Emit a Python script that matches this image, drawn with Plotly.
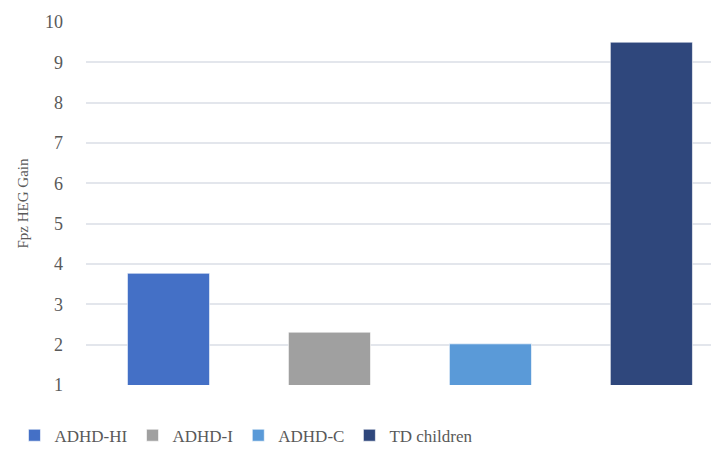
import plotly.graph_objects as go

groups = ["ADHD-HI", "ADHD-I", "ADHD-C", "TD children"]
values = [3.77, 2.31, 2.02, 9.5]
colors = ["#4470c6", "#a0a0a0", "#5a9ad8", "#2f477c"]
y_ticks = [1, 2, 3, 4, 5, 6, 7, 8, 9, 10]

SERIF = "Liberation Serif"

fig = go.Figure()
for i, (g, v, c) in enumerate(zip(groups, values, colors)):
    fig.add_trace(go.Bar(
        x=[i], y=[v], name=g, width=0.51,
        marker=dict(color=c, line=dict(color="rgba(255,255,255,0.6)", width=1)),
    ))

# page body has an 8px default margin, so offsets are compensated here
fig.update_layout(
    width=711, height=454,
    margin=dict(l=78, r=0, t=14, b=77),
    paper_bgcolor="white", plot_bgcolor="white",
    font=dict(family=SERIF, color="#595959"),
    showlegend=True,
    legend=dict(orientation="h", x=-0.113, xanchor="left", y=-0.09, yanchor="top",
                font=dict(size=17, color="#595959", family=SERIF),
                itemwidth=30),
    xaxis=dict(range=[-0.5125, 3.42], showticklabels=False, showgrid=False,
               zeroline=False, showline=False, fixedrange=True),
    yaxis=dict(range=[1, 10], tickvals=y_ticks, showgrid=True, gridcolor="#e3e6ec",
               gridwidth=1.5, zeroline=False, showline=False,
               tickfont=dict(size=18, color="#595959", family=SERIF), ticklabelstandoff=22,
               title=dict(text="Fpz HEG Gain", font=dict(size=15, color="#595959", family=SERIF),
                          standoff=12)),
    barmode="overlay",
)

fig.write_html("out.html")
